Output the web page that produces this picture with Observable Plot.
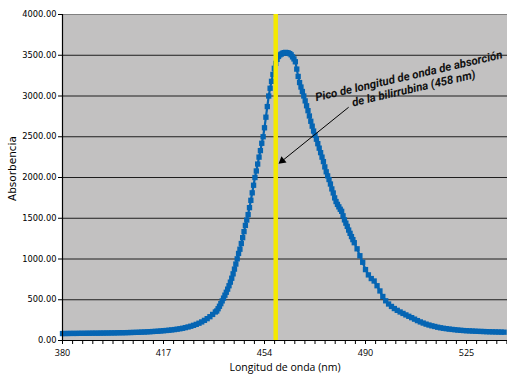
<!DOCTYPE html>
<html>
<head>
<meta charset="utf-8">
<script src="https://cdn.jsdelivr.net/npm/d3@7"></script>
<script src="https://cdn.jsdelivr.net/npm/@observablehq/plot@0.6"></script>
<style>
html, body { margin: 0; padding: 0; background: #fff; overflow: hidden; }
</style>
</head>
<body>
<div id="chart"></div>
<script>
// Wavelength (nm) of each measured point
const wavelengths = [
  380,381,382,383,384,385,386,387,388,389,390,391,392,393,394,395,396,397,398,399,
  400,401,402,403,404,405,406,407,408,409,410,411,412,413,414,415,416,417,418,419,
  420,421,422,423,424,425,426,427,428,429,430,431,432,433,434,435,436,
  436.5,437,437.5,438,438.5,439,439.5,440,440.5,441,441.5,442,442.5,443,443.5,444,444.5,
  445,445.5,446,446.5,447,447.5,448,448.5,449,449.5,450,450.5,451,451.5,452,452.5,453,453.5,
  454,454.5,455,455.5,456,456.5,457,457.5,458,458.5,459,459.5,460,460.5,461,461.5,462,462.5,
  463,463.5,464,464.5,465,465.5,466,466.5,467,467.5,468,468.5,469,469.5,470,470.5,471,471.5,
  472,472.5,473,473.5,474,474.5,475,475.5,476,476.5,477,477.5,478,478.5,479,479.5,480,480.5,
  481,481.5,482,482.5,483,483.5,484,484.5,485,485.5,486,
  487,488,489,490,491,492,493,494,495,496,497,498,499,500,501,502,503,504,505,506,507,508,509,
  510,511,512,513,514,515,516,517,518,519,520,521,522,523,524,525,526,527,528,529,530,531,532,
  533,534,535,536,537,538,539
];
// Absorbance
const absorbance = [
  85,86,86,87,87,87,88,88,88,89,89,90,90,90,91,91,92,92,93,93,
  94,95,95,96,97,98,99,100,101,103,104,106,108,110,112,114,117,120,123,126,
  130,134,139,144,150,158,166,175,186,198,212,228,247,268,292,320,350,
  362,390,420,452,486,520,556,592,630,672,716,764,818,876,938,1002,1068,
  1120,1190,1262,1336,1412,1478,1545,1630,1720,1812,1905,2000,2080,2165,2250,2330,2420,2500,
  2610,2740,2870,3000,3095,3180,3265,3340,3400,3450,3485,3505,3515,3525,3532,3535,3532,3527,
  3520,3505,3480,3455,3420,3330,3240,3165,3110,3055,3000,2940,2880,2820,2755,2690,2630,2570,
  2520,2470,2415,2360,2305,2250,2195,2130,2070,2020,1975,1920,1860,1810,1750,1705,1670,1640,
  1610,1585,1530,1480,1440,1400,1355,1315,1275,1238,1200,
  1125,1040,960,870,805,760,730,672,608,540,487,448,418,392,370,350,332,314,297,280,262,244,228,
  214,201,190,180,172,163,156,150,145,140,136,132,128,125,122,120,118,116,114,112,111,110,
  108,107,106,105,104,103,102
];
const xTickLabels = [380, 417, 454, 490, 525];
const xMinorPerLabel = 10;
const xAxisEnd = 539.2;
const yTicks = [0, 500, 1000, 1500, 2000, 2500, 3000, 3500, 4000];
const peakNm = 458;
const xTitle = "Longitud de onda (nm)";
const yTitle = "Absorbencia";
const noteLine1 = "Pico de longitud de onda de absorción";
const noteLine2 = "de la bilirrubina (458 nm)";
// annotation anchors (data units)
const yTitlePos = 2110;
const note1Pos = {x: 505.3, y: 3200};
const note2Pos = {x: 507.0, y: 3047};
const arrowFrom = {x: 484.0, y: 2862};
const arrowHead = {x: 460.3, y: 2204, angle: 231};

const data = wavelengths.map((w, i) => ({w, a: absorbance[i]}));

// minor tick positions: 10 per labelled interval, continuing past the last label
const minorTicks = [];
for (let i = 0; i < xTickLabels.length - 1; i++) {
  const a = xTickLabels[i], b = xTickLabels[i + 1];
  for (let k = 0; k < xMinorPerLabel; k++) minorTicks.push(a + (b - a) * k / xMinorPerLabel);
}
{
  const n = xTickLabels.length;
  const step = (xTickLabels[n - 1] - xTickLabels[n - 2]) / xMinorPerLabel;
  for (let v = xTickLabels[n - 1]; v <= xAxisEnd; v += step) minorTicks.push(v);
}

const blue = "#0565b3";
const axisFont = "DejaVu Sans";

const chart = Plot.plot({
  width: 507,
  height: 376,
  marginLeft: 62,
  marginRight: 0,
  marginTop: 14,
  marginBottom: 36,
  style: {background: "#fff", color: "#000", fontFamily: axisFont},
  x: {type: "linear", domain: [...xTickLabels, xAxisEnd], range: [62, 163, 264, 365, 466, 507], axis: null},
  y: {domain: [0, 4000], range: [340, 14], axis: null},
  marks: [
    Plot.frame({fill: "#c2c1c1", stroke: "none"}),
    Plot.ruleY(yTicks.filter(v => v > 0 && v < 4000), {stroke: "#1e1e1e", strokeWidth: 1}),
    Plot.ruleY([4000], {stroke: "#808080", strokeWidth: 1}),
    Plot.line(data, {x: "w", y: "a", stroke: blue, strokeWidth: 2.2}),
    Plot.dot(data, {x: "w", y: "a", symbol: "square", r: 3, fill: blue, stroke: "none"}),
    Plot.ruleX([peakNm], {y1: 0, y2: 4000, stroke: "#f5e900", strokeWidth: 4.5}),
    Plot.ruleX([xTickLabels[0]], {stroke: "#000", strokeWidth: 1.2}),
    Plot.ruleY([0], {stroke: "#000", strokeWidth: 1.2}),
    Plot.axisY(yTicks, {tickSize: 4, tickPadding: 2, tickFormat: d3.format(".2f"), fontSize: 8.3, fontFamily: axisFont, label: null, stroke: "#000"}),
    Plot.axisX(minorTicks, {tickSize: 4, tickFormat: () => "", label: null, stroke: "#000"}),
    Plot.axisX(xTickLabels, {tickSize: 4, tickPadding: 5, tickFormat: d => String(d), fontSize: 9, fontFamily: "Open Sans", label: null, stroke: "#000"}),
    Plot.text([yTitle], {y: () => yTitlePos, frameAnchor: "left", textAnchor: "middle", dx: -50, rotate: -90, fontSize: 10.5, fontFamily: axisFont}),
    Plot.text([xTitle], {frameAnchor: "bottom", dy: 30, fontSize: 10.5, fontFamily: "Open Sans"}),
    Plot.link([0], {x1: () => arrowFrom.x, y1: () => arrowFrom.y, x2: () => arrowHead.x, y2: () => arrowHead.y, stroke: "#000", strokeWidth: 1}),
    Plot.dot([0], {x: () => arrowHead.x, y: () => arrowHead.y, symbol: "triangle", r: 3, fill: "#000", stroke: "none", rotate: arrowHead.angle}),
    Plot.text([noteLine1], {x: () => note1Pos.x, y: () => note1Pos.y, rotate: -13, lineAnchor: "bottom", fontSize: 11.5, fontWeight: "bold", fontStyle: "italic", fontFamily: "Roboto", fill: "#111"}),
    Plot.text([noteLine2], {x: () => note2Pos.x, y: () => note2Pos.y, rotate: -13, lineAnchor: "bottom", fontSize: 11.5, fontWeight: "bold", fontStyle: "italic", fontFamily: "Roboto", fill: "#111"})
  ]
});
document.getElementById("chart").appendChild(chart);
</script>
</body>
</html>
